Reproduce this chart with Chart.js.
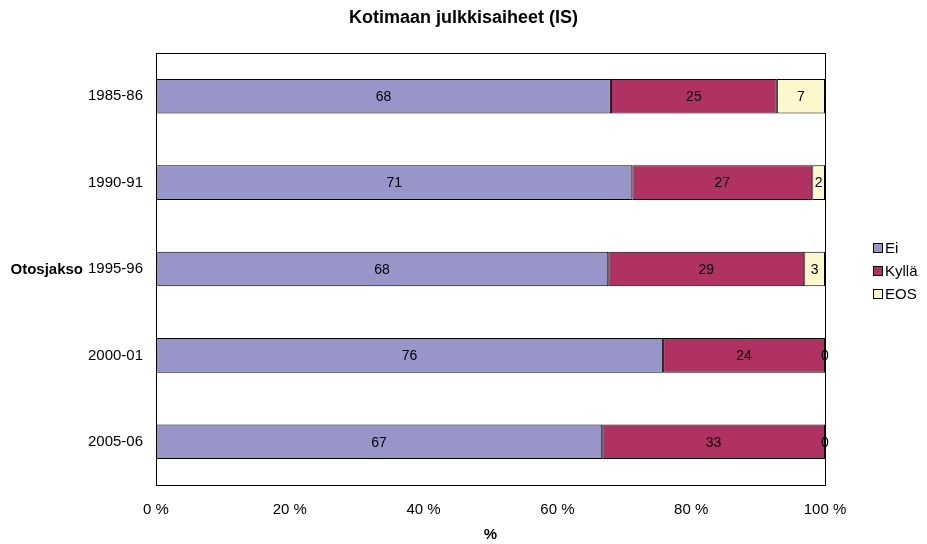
<!DOCTYPE html>
<html>
<head>
<meta charset="utf-8">
<script src="https://cdn.jsdelivr.net/npm/chart.js@4.4.1/dist/chart.umd.min.js"></script>
<style>
  html, body { margin: 0; padding: 0; background: #fff; }
  #wrap { width: 927px; height: 544px; }
</style>
</head>
<body>
<div id="wrap"><canvas id="chart" width="927" height="544"></canvas></div>
<script>
const chartTitle = 'Kotimaan julkkisaiheet (IS)';
const yTitle = 'Otosjakso';
const periods = ['1985-86', '1990-91', '1995-96', '2000-01', '2005-06'];
const ei    = [68.0, 71.2, 67.6, 75.8, 66.7];
const kylla = [24.8, 26.9, 29.3, 24.2, 33.3];
const eos   = [7.2, 1.9, 3.1, 0, 0];
const xTicks = [0, 20, 40, 60, 80, 100];

const FONT = 'Liberation Sans, Arial, sans-serif';
const colors = { ei: '#9896c8', kylla: '#b03262', eos: '#fdf8cc' };

// frame, value labels, title, y title and legend
const extras = {
    id: 'extras',
    afterDatasetsDraw(chart) {
        const ctx = chart.ctx;
        const a = chart.chartArea;
        ctx.save();
        ctx.strokeStyle = '#000';
        ctx.lineWidth = 1;
        ctx.strokeRect(Math.round(a.left) + 0.5, Math.round(a.top) + 0.5,
            Math.round(a.right - a.left), Math.round(a.bottom - a.top));

        ctx.font = '14px ' + FONT;
        ctx.fillStyle = '#000';
        ctx.textAlign = 'center';
        ctx.textBaseline = 'middle';
        chart.data.datasets.forEach((ds, i) => {
            const meta = chart.getDatasetMeta(i);
            meta.data.forEach((el, j) => {
                const v = Math.round(ds.data[j]);
                ctx.fillText(String(v), (el.x + el.base) / 2, el.y + 1);
            });
        });
        ctx.restore();
    },
    afterDraw(chart) {
        const ctx = chart.ctx;
        const yScale = chart.scales.y;
        ctx.save();
        ctx.fillStyle = '#000';
        ctx.textBaseline = 'middle';

        ctx.font = 'bold 18px ' + FONT;
        ctx.textAlign = 'center';
        ctx.fillText(chartTitle, chart.width / 2, 18);

        ctx.font = 'bold 15px ' + FONT;
        ctx.textAlign = 'right';
        ctx.fillText(yTitle, 83, yScale.getPixelForValue(2) + 1);

        ctx.font = '15px ' + FONT;
        ctx.textAlign = 'left';
        const legendY = [248, 271, 294];
        chart.data.datasets.forEach((ds, i) => {
            const y = legendY[i];
            ctx.fillStyle = ds.backgroundColor;
            ctx.fillRect(873, y - 5, 10, 10);
            ctx.strokeStyle = '#000';
            ctx.lineWidth = 1;
            ctx.strokeRect(873.5, y - 4.5, 9, 9);
            ctx.fillStyle = '#000';
            ctx.fillText(ds.label, 885, y + 1);
        });
        ctx.restore();
    }
};

new Chart(document.getElementById('chart'), {
    type: 'bar',
    data: {
        labels: periods,
        datasets: [
            { label: 'Ei', data: ei, backgroundColor: colors.ei },
            { label: 'Kyllä', data: kylla, backgroundColor: colors.kylla },
            { label: 'EOS', data: eos, backgroundColor: colors.eos }
        ].map(d => Object.assign(d, {
            borderColor: '#000', borderWidth: 1, borderSkipped: false,
            barPercentage: 0.4, categoryPercentage: 1
        }))
    },
    options: {
        indexAxis: 'y',
        responsive: false,
        animation: false,
        layout: { padding: { left: 0, right: 102, top: 53, bottom: 0 } },
        plugins: {
            legend: { display: false },
            tooltip: { enabled: false },
            title: { display: false }
        },
        scales: {
            x: {
                stacked: true,
                min: 0, max: 100,
                afterBuildTicks(scale) { scale.ticks = xTicks.map(v => ({ value: v })); },
                ticks: {
                    color: '#000', padding: 16, maxRotation: 0,
                    font: { family: FONT, size: 15 },
                    callback: v => v + ' %'
                },
                grid: { display: false, drawTicks: false },
                border: { display: false },
                title: {
                    display: true, text: '%', color: '#000',
                    font: { family: FONT, size: 15, weight: 'bold' },
                    padding: { top: 5, bottom: 0 }
                },
                afterFit(scale) { scale.height = 59; }
            },
            y: {
                stacked: true,
                ticks: {
                    color: '#000', padding: 13,
                    font: { family: FONT, size: 15 }
                },
                grid: { display: false, drawTicks: false },
                border: { display: false },
                afterFit(scale) { scale.width = 156; }
            }
        }
    },
    plugins: [extras]
});
</script>
</body>
</html>
